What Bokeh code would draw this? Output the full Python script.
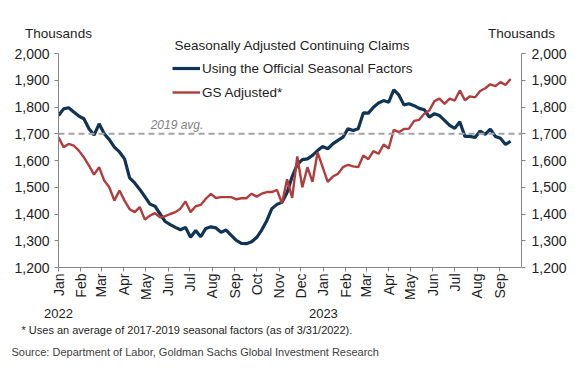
import math
import pandas as pd
from bokeh.plotting import figure
from bokeh.models import (Range1d, LinearAxis, DatetimeAxis, FixedTicker,
                          DatetimeTickFormatter, NumeralTickFormatter, Span,
                          Label, Legend, LegendItem, Title)
from bokeh.embed import file_html
from bokeh.resources import INLINE

# ---- data (thousands, weekly, starting week of 2022-01-01) ----
official = [1768, 1793, 1797, 1781, 1766, 1756, 1719, 1695, 1737, 1700,
            1678, 1650, 1632, 1606, 1535, 1516, 1492, 1465, 1437, 1429,
            1400, 1372, 1360, 1350, 1341, 1350, 1313, 1338, 1315, 1346,
            1352, 1348, 1332, 1340, 1320, 1301, 1290, 1289, 1296, 1312,
            1340, 1375, 1420, 1436, 1444, 1480, 1540, 1585, 1603, 1606,
            1619, 1637, 1652, 1644, 1662, 1675, 1687, 1719, 1712, 1719,
            1778, 1777, 1799, 1815, 1824, 1818, 1864, 1845, 1808, 1812,
            1805, 1795, 1790, 1762, 1775, 1768, 1750, 1731, 1720, 1745,
            1690, 1690, 1686, 1710, 1698, 1717, 1690, 1683, 1660, 1672]
gs_adjusted = [1687, 1650, 1662, 1656, 1637, 1612, 1581, 1547, 1575, 1525,
               1500, 1450, 1488, 1450, 1418, 1407, 1426, 1379, 1394, 1403,
               1388, 1392, 1400, 1407, 1420, 1447, 1407, 1429, 1434, 1457,
               1475, 1460, 1463, 1463, 1463, 1455, 1459, 1459, 1476, 1465,
               1476, 1482, 1482, 1490, 1440, 1530, 1460, 1615, 1500, 1575,
               1520, 1630, 1575, 1520, 1540, 1550, 1575, 1584, 1578, 1575,
               1619, 1605, 1635, 1625, 1660, 1645, 1715, 1706, 1718, 1719,
               1748, 1752, 1775, 1787, 1822, 1831, 1812, 1831, 1824, 1862,
               1825, 1840, 1836, 1860, 1870, 1885, 1878, 1893, 1882, 1905]
first_week = "2022-01-01"
avg_2019 = 1700
y_ticks = [1200, 1300, 1400, 1500, 1600, 1700, 1800, 1900, 2000]
month_ticks = pd.date_range("2022-01-01", "2023-09-01", freq="MS")
year_ticks = [pd.Timestamp("2022-01-01"), pd.Timestamp("2023-01-01")]
x_start, x_end = pd.Timestamp("2022-01-01"), pd.Timestamp("2023-10-01")
unit_label = "Thousands"
legend_title = "Seasonally Adjusted Continuing Claims"
footnote = "* Uses an average of 2017-2019 seasonal factors (as of 3/31/2022)."
source = "Source: Department of Labor, Goldman Sachs Global Investment Research"

dates = pd.date_range(first_week, periods=len(official), freq="7D")

FONT = "Liberation Sans"
BLUE = "#0f3455"
RED = "#b23c3c"
AXIS = "#868686"
TXT = "#1e1e1e"

p = figure(width=579, height=366, x_axis_type="datetime",
           x_range=Range1d(x_start, x_end), y_range=Range1d(1200, 2000),
           output_backend="svg", toolbar_location=None,
           min_border_left=58, min_border_right=58,
           min_border_top=53, min_border_bottom=99)
p.xgrid.visible = False
p.ygrid.visible = False
p.outline_line_color = None
p.title.text = ""


def ms(t):
    return pd.Timestamp(t).timestamp() * 1000


def fixed_fmt(f):
    return DatetimeTickFormatter(microseconds=f, milliseconds=f, seconds=f,
                                 minsec=f, minutes=f, hourmin=f, hours=f,
                                 days=f, months=f, years=f)


# x month axis
xa = p.xaxis[0]
xa.ticker = FixedTicker(ticks=[ms(t) for t in month_ticks])
xa.formatter = fixed_fmt("%b")
xa.major_label_orientation = math.pi / 2
xa.axis_line_color = AXIS
xa.major_tick_line_color = AXIS
xa.major_tick_out = 4
xa.major_tick_in = 0
xa.minor_tick_line_color = None
xa.major_label_standoff = 2
xa.major_label_text_font = FONT
xa.major_label_text_font_size = "14px"
xa.major_label_text_color = TXT

# year axis
ya2 = DatetimeAxis(ticker=FixedTicker(ticks=[ms(t) for t in year_ticks]),
                   formatter=fixed_fmt("%Y"))
ya2.axis_line_color = None
ya2.major_tick_line_color = None
ya2.minor_tick_line_color = None
ya2.major_label_standoff = 0
ya2.major_label_text_font = FONT
ya2.major_label_text_font_size = "13px"
ya2.major_label_text_color = TXT
p.add_layout(ya2, "below")

# notes below
p.add_layout(Title(text=footnote, align="left", offset=-37, standoff=2,
                   text_font=FONT, text_font_size="11px", text_font_style="normal",
                   text_color=TXT), "below")
p.add_layout(Title(text=source, align="left", offset=-47, standoff=15,
                   text_font=FONT, text_font_size="11px", text_font_style="normal",
                   text_color="#404040"), "below")


# y axes
def style_y(ax, standoff):
    ax.ticker = FixedTicker(ticks=y_ticks)
    ax.formatter = NumeralTickFormatter(format="0,0")
    ax.axis_line_color = AXIS
    ax.major_tick_line_color = AXIS
    ax.major_tick_out = 4
    ax.major_tick_in = 0
    ax.minor_tick_line_color = None
    ax.major_label_standoff = standoff
    ax.major_label_text_font = FONT
    ax.major_label_text_font_size = "14px"
    ax.major_label_text_color = TXT


style_y(p.yaxis[0], 5)
ra = LinearAxis()
style_y(ra, 6)
p.add_layout(ra, "right")

# above: legend title row, then unit labels at both ends of the axis
p.add_layout(Title(text=legend_title, align="left", offset=116, standoff=1,
                   text_font=FONT, text_font_size="13.5px", text_font_style="normal",
                   text_color=TXT), "above")
ua = DatetimeAxis(ticker=FixedTicker(ticks=[ms(x_start), ms(x_end)]),
                  major_label_overrides={ms(x_start): unit_label, ms(x_end): unit_label})
ua.axis_line_color = None
ua.major_tick_line_color = None
ua.minor_tick_line_color = None
ua.major_tick_out = 0
ua.major_tick_in = 0
ua.major_label_standoff = -5
ua.major_label_text_font = FONT
ua.major_label_text_font_size = "13.5px"
ua.major_label_text_color = TXT
p.add_layout(ua, "above")

# 2019 average
p.add_layout(Span(location=avg_2019, dimension="width", line_color="#a3a3a3",
                  line_width=2, line_dash="6 4"))
p.add_layout(Label(x=pd.Timestamp("2022-05-08"), y=avg_2019, y_offset=2,
                   text="2019 avg.", text_font=FONT, text_font_size="12px",
                   text_font_style="italic", text_color="#7f7f7f",
                   text_baseline="bottom"))

r1 = p.line(dates, official, line_color=BLUE, line_width=3.2)
r2 = p.line(dates, gs_adjusted, line_color=RED, line_width=2.4)

legend = Legend(items=[LegendItem(label="Using the Official Seasonal Factors", renderers=[r1]),
                       LegendItem(label="GS Adjusted*", renderers=[r2])],
                location=(114, 165), padding=0, margin=0, spacing=4,
                glyph_width=28, glyph_height=20, label_height=20, label_standoff=2,
                background_fill_alpha=0, border_line_alpha=0,
                label_text_font=FONT, label_text_font_size="13.5px", label_text_color=TXT)
p.add_layout(legend)

open("out.html", "w").write(file_html(p, INLINE))
